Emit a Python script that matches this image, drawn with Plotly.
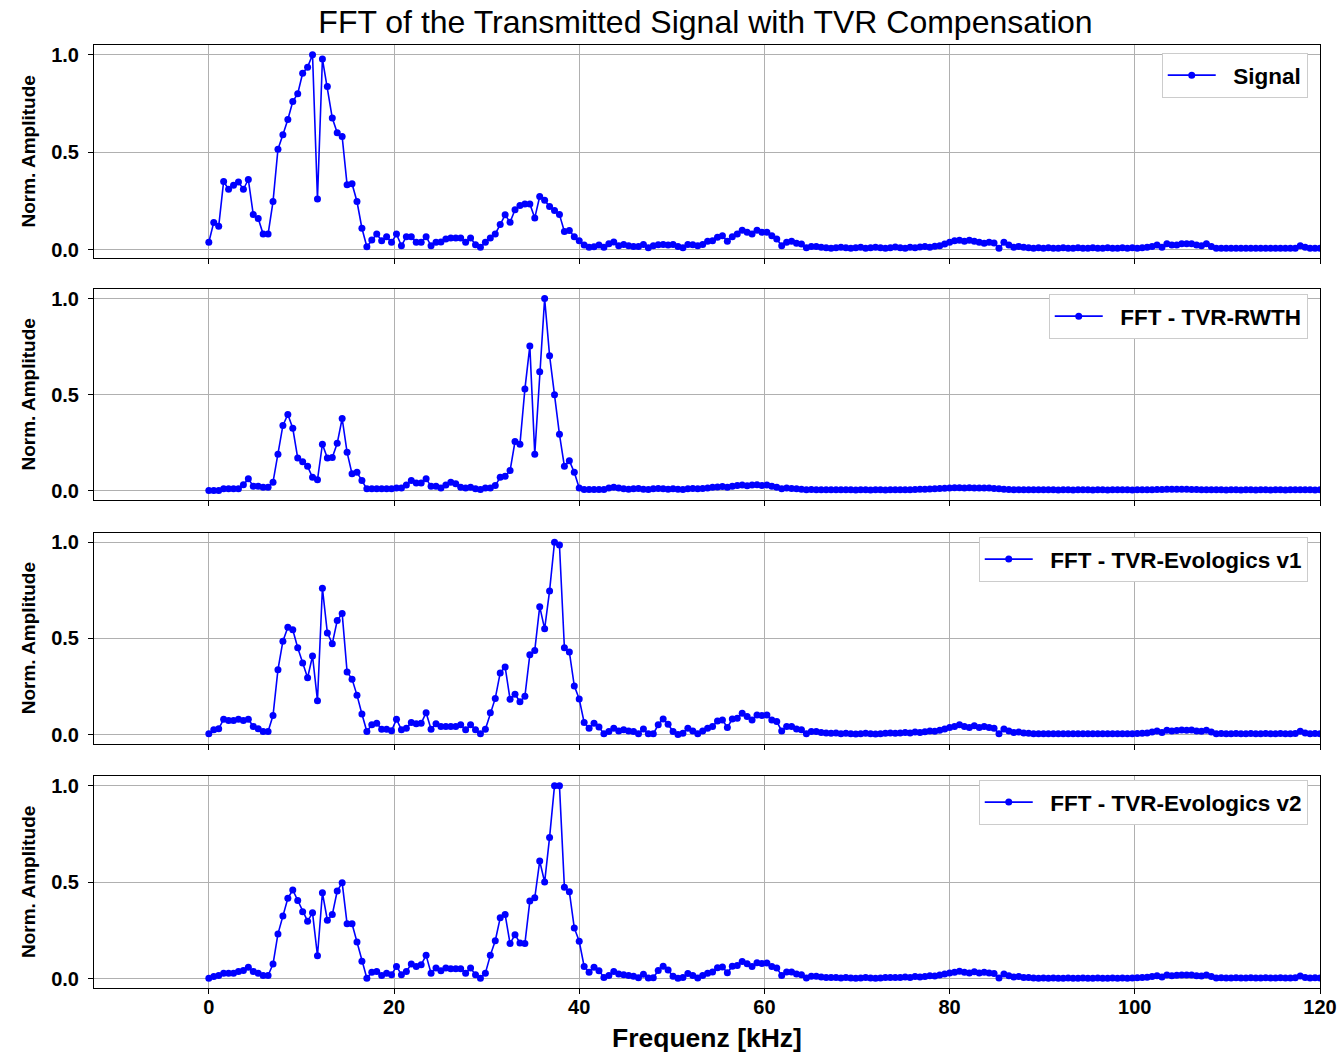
import plotly.graph_objects as go

# FFT bin frequencies in kHz (226 bins, 0 .. 120 kHz)
n_bins = 226
bin_width_khz = 120 / 225
freq_khz = [i * bin_width_khz for i in range(n_bins)]

series_names = ["Signal", "FFT - TVR-RWTH", "FFT - TVR-Evologics v1", "FFT - TVR-Evologics v2"]

signal_amp = [
    0.038, 0.14, 0.12, 0.35, 0.31, 0.33, 0.347, 0.31, 0.36, 0.18,
    0.16, 0.08, 0.08, 0.247, 0.515, 0.59, 0.668, 0.76, 0.80, 0.905,
    0.936, 1.0, 0.26, 0.978, 0.837, 0.675, 0.60, 0.58, 0.333, 0.338,
    0.247, 0.11, 0.015, 0.05, 0.08, 0.046, 0.067, 0.038, 0.08, 0.02,
    0.067, 0.067, 0.038, 0.038, 0.067, 0.02, 0.038, 0.04, 0.055, 0.06,
    0.06, 0.06, 0.038, 0.06, 0.026, 0.012, 0.038, 0.06, 0.081, 0.129,
    0.179, 0.141, 0.205, 0.227, 0.235, 0.235, 0.163, 0.273, 0.253, 0.222,
    0.201, 0.18, 0.093, 0.098, 0.067, 0.046, 0.024, 0.012, 0.015, 0.024,
    0.012, 0.03, 0.04, 0.02, 0.027, 0.02, 0.016, 0.016, 0.027, 0.01,
    0.02, 0.025, 0.027, 0.024, 0.027, 0.016, 0.01, 0.027, 0.025, 0.02,
    0.027, 0.043, 0.046, 0.064, 0.072, 0.043, 0.067, 0.081, 0.1, 0.089,
    0.081, 0.1, 0.089, 0.089, 0.072, 0.055, 0.02, 0.038, 0.043, 0.033,
    0.029, 0.01, 0.016, 0.016, 0.012, 0.01, 0.008, 0.01, 0.012, 0.01,
    0.008, 0.01, 0.012, 0.008, 0.01, 0.012, 0.01, 0.008, 0.01, 0.014,
    0.01, 0.008, 0.012, 0.01, 0.014, 0.016, 0.012, 0.018, 0.02, 0.029,
    0.038, 0.046, 0.049, 0.043, 0.049, 0.043, 0.038, 0.033, 0.038, 0.035,
    0.007, 0.038, 0.024, 0.012, 0.017, 0.012, 0.01, 0.008, 0.01, 0.008,
    0.01, 0.008, 0.008, 0.01, 0.008, 0.008, 0.01, 0.008, 0.008, 0.01,
    0.008, 0.008, 0.01, 0.008, 0.008, 0.01, 0.008, 0.01, 0.008, 0.01,
    0.012, 0.017, 0.024, 0.012, 0.03, 0.024, 0.024, 0.03, 0.03, 0.03,
    0.024, 0.02, 0.03, 0.017, 0.007, 0.008, 0.007, 0.008, 0.007, 0.007,
    0.008, 0.007, 0.007, 0.008, 0.007, 0.007, 0.008, 0.007, 0.007, 0.008,
    0.007, 0.02, 0.012, 0.007, 0.008, 0.007,
]

rwth_amp = [
    0.002, 0.002, 0.002, 0.01, 0.01, 0.01, 0.01, 0.031, 0.062, 0.024,
    0.024, 0.019, 0.019, 0.045, 0.19, 0.34, 0.397, 0.325, 0.17, 0.151,
    0.127, 0.07, 0.057, 0.242, 0.17, 0.173, 0.247, 0.376, 0.2, 0.088,
    0.096, 0.053, 0.01, 0.01, 0.01, 0.01, 0.01, 0.01, 0.015, 0.014,
    0.03, 0.053, 0.041, 0.041, 0.062, 0.024, 0.024, 0.014, 0.03, 0.045,
    0.036, 0.019, 0.014, 0.019, 0.01, 0.007, 0.014, 0.014, 0.027, 0.07,
    0.076, 0.105, 0.256, 0.242, 0.529, 0.753, 0.19, 0.619, 1.0, 0.703,
    0.5, 0.294, 0.127, 0.156, 0.096, 0.014, 0.007, 0.007, 0.007, 0.007,
    0.007, 0.014, 0.019, 0.014, 0.01, 0.008, 0.01, 0.012, 0.008, 0.007,
    0.01, 0.012, 0.01, 0.008, 0.01, 0.008, 0.007, 0.01, 0.012, 0.01,
    0.012, 0.014, 0.018, 0.02, 0.022, 0.018, 0.024, 0.028, 0.03, 0.026,
    0.03, 0.032, 0.028, 0.03, 0.024, 0.018, 0.01, 0.014, 0.012, 0.01,
    0.008, 0.006, 0.007, 0.006, 0.005, 0.006, 0.005, 0.005, 0.006, 0.005,
    0.005, 0.004, 0.005, 0.005, 0.004, 0.005, 0.005, 0.004, 0.005, 0.006,
    0.005, 0.006, 0.006, 0.007, 0.008, 0.008, 0.009, 0.01, 0.012, 0.013,
    0.014, 0.016, 0.016, 0.015, 0.016, 0.015, 0.014, 0.015, 0.014, 0.012,
    0.01, 0.008, 0.007, 0.006, 0.006, 0.005, 0.005, 0.005, 0.005, 0.005,
    0.005, 0.005, 0.004, 0.005, 0.005, 0.004, 0.005, 0.005, 0.005, 0.004,
    0.005, 0.005, 0.004, 0.005, 0.005, 0.005, 0.005, 0.004, 0.005, 0.005,
    0.006, 0.006, 0.007, 0.007, 0.008, 0.008, 0.008, 0.008, 0.008, 0.007,
    0.007, 0.006, 0.006, 0.005, 0.005, 0.005, 0.004, 0.005, 0.005, 0.004,
    0.005, 0.005, 0.004, 0.005, 0.005, 0.004, 0.005, 0.005, 0.004, 0.005,
    0.005, 0.006, 0.005, 0.005, 0.004, 0.005,
]

evo_v1_amp = [
    0.005, 0.026, 0.031, 0.081, 0.074, 0.074, 0.081, 0.074, 0.081, 0.043,
    0.031, 0.017, 0.017, 0.1, 0.338, 0.486, 0.558, 0.545, 0.452, 0.373,
    0.296, 0.409, 0.177, 0.761, 0.529, 0.473, 0.593, 0.63, 0.326, 0.289,
    0.206, 0.108, 0.017, 0.052, 0.06, 0.029, 0.029, 0.021, 0.081, 0.026,
    0.034, 0.064, 0.057, 0.06, 0.115, 0.029, 0.057, 0.043, 0.043, 0.043,
    0.043, 0.052, 0.026, 0.052, 0.026, 0.005, 0.029, 0.115, 0.189, 0.321,
    0.352, 0.184, 0.21, 0.172, 0.2, 0.416, 0.438, 0.665, 0.55, 0.747,
    1.0, 0.985, 0.452, 0.43, 0.254, 0.186, 0.064, 0.034, 0.06, 0.04,
    0.005, 0.017, 0.034, 0.02, 0.026, 0.02, 0.017, 0.005, 0.03, 0.005,
    0.005, 0.052, 0.082, 0.055, 0.017, 0.002, 0.008, 0.034, 0.02, 0.005,
    0.02, 0.034, 0.043, 0.072, 0.077, 0.038, 0.082, 0.086, 0.112, 0.095,
    0.077, 0.103, 0.1, 0.103, 0.077, 0.069, 0.02, 0.043, 0.043, 0.03,
    0.026, 0.005, 0.017, 0.017, 0.012, 0.01, 0.008, 0.01, 0.006, 0.008,
    0.006, 0.004, 0.006, 0.008, 0.006, 0.004, 0.006, 0.008, 0.01, 0.008,
    0.01, 0.012, 0.01, 0.014, 0.012, 0.016, 0.02, 0.018, 0.024, 0.03,
    0.038, 0.043, 0.052, 0.043, 0.038, 0.047, 0.038, 0.043, 0.038, 0.034,
    0.005, 0.03, 0.02, 0.012, 0.014, 0.01, 0.008, 0.006, 0.005, 0.006,
    0.005, 0.006, 0.005, 0.005, 0.006, 0.005, 0.005, 0.006, 0.005, 0.005,
    0.006, 0.005, 0.005, 0.006, 0.005, 0.006, 0.005, 0.006, 0.007, 0.008,
    0.01, 0.014, 0.02, 0.012, 0.024, 0.02, 0.022, 0.025, 0.024, 0.025,
    0.02, 0.018, 0.024, 0.014, 0.006, 0.007, 0.006, 0.006, 0.007, 0.006,
    0.006, 0.007, 0.006, 0.006, 0.007, 0.006, 0.006, 0.007, 0.006, 0.006,
    0.007, 0.018, 0.01, 0.006, 0.007, 0.006,
]

evo_v2_amp = [
    0.004, 0.013, 0.018, 0.03, 0.03, 0.03, 0.039, 0.044, 0.06, 0.039,
    0.03, 0.018, 0.018, 0.077, 0.233, 0.325, 0.417, 0.46, 0.406, 0.347,
    0.299, 0.342, 0.12, 0.446, 0.304, 0.333, 0.455, 0.498, 0.285, 0.285,
    0.191, 0.091, 0.004, 0.035, 0.039, 0.018, 0.03, 0.022, 0.065, 0.022,
    0.039, 0.077, 0.065, 0.074, 0.122, 0.03, 0.056, 0.043, 0.056, 0.053,
    0.053, 0.053, 0.03, 0.056, 0.022, 0.004, 0.03, 0.122, 0.198, 0.316,
    0.333, 0.183, 0.229, 0.186, 0.183, 0.403, 0.42, 0.61, 0.501, 0.732,
    1.0, 1.0, 0.475, 0.451, 0.264, 0.195, 0.065, 0.035, 0.06, 0.043,
    0.008, 0.018, 0.039, 0.025, 0.022, 0.018, 0.014, 0.006, 0.024, 0.005,
    0.006, 0.044, 0.066, 0.046, 0.014, 0.003, 0.008, 0.028, 0.018, 0.005,
    0.018, 0.03, 0.036, 0.058, 0.062, 0.032, 0.066, 0.07, 0.09, 0.078,
    0.064, 0.084, 0.08, 0.082, 0.064, 0.056, 0.018, 0.036, 0.036, 0.026,
    0.022, 0.005, 0.014, 0.014, 0.01, 0.008, 0.007, 0.008, 0.005, 0.007,
    0.005, 0.004, 0.005, 0.007, 0.005, 0.004, 0.005, 0.007, 0.008, 0.007,
    0.008, 0.01, 0.008, 0.012, 0.01, 0.013, 0.016, 0.015, 0.02, 0.025,
    0.031, 0.035, 0.04, 0.035, 0.031, 0.037, 0.031, 0.035, 0.031, 0.028,
    0.005, 0.025, 0.016, 0.01, 0.012, 0.008, 0.007, 0.005, 0.004, 0.005,
    0.004, 0.005, 0.004, 0.004, 0.005, 0.004, 0.004, 0.005, 0.004, 0.004,
    0.005, 0.004, 0.004, 0.005, 0.004, 0.005, 0.004, 0.005, 0.006, 0.007,
    0.009, 0.012, 0.017, 0.01, 0.02, 0.017, 0.019, 0.021, 0.02, 0.021,
    0.017, 0.015, 0.02, 0.012, 0.005, 0.006, 0.005, 0.005, 0.006, 0.005,
    0.005, 0.006, 0.005, 0.005, 0.006, 0.005, 0.005, 0.006, 0.005, 0.005,
    0.006, 0.015, 0.008, 0.005, 0.006, 0.005,
]

all_series = [signal_amp, rwth_amp, evo_v1_amp, evo_v2_amp]

x_ticks = [0, 20, 40, 60, 80, 100, 120]
y_ticks = [0.0, 0.5, 1.0]

FONT = "Liberation Sans, Arial, sans-serif"
BLUE = "#0000ff"
GRID = "#b0b0b0"

# vertical domains of the four stacked panels (paper coordinates)
domains = [(0.7741, 1.0), (0.5175, 0.7413), (0.2587, 0.4830), (0.0, 0.2248)]
legend_tops = [0.9915, 0.7359, 0.4783, 0.2206]

fig = go.Figure()
layout = dict(
    width=1341,
    height=1054,
    paper_bgcolor="white",
    plot_bgcolor="white",
    showlegend=True,
    margin=dict(l=94, r=21, t=45, b=66, autoexpand=False),
    font=dict(family=FONT, color="black"),
    title=dict(
        text="FFT of the Transmitted Signal with TVR Compensation",
        x=0.5261, xanchor="center", y=0.979, yanchor="middle", yref="container",
        font=dict(family=FONT, size=32, color="black"),
    ),
    annotations=[],
)

for k, (name, amp) in enumerate(zip(series_names, all_series)):
    sfx = "" if k == 0 else str(k + 1)
    lg = "legend" if k == 0 else f"legend{k + 1}"
    fig.add_trace(go.Scatter(
        x=freq_khz, y=amp, name="\u00a0\u00a0" + name, mode="lines+markers",
        line=dict(color=BLUE, width=1.6),
        marker=dict(color=BLUE, size=7),
        xaxis=f"x{sfx}", yaxis=f"y{sfx}", legend=lg, showlegend=True,
    ))

    lo, hi = min(amp), max(amp)
    pad = 0.05 * (hi - lo)
    last = k == len(series_names) - 1

    layout[f"xaxis{sfx}"] = dict(
        domain=[0, 1], anchor=f"y{sfx}", range=[-12.4, 120],
        tickvals=x_ticks, showticklabels=last, automargin=False,
        ticks="outside", ticklen=5, tickwidth=1, tickcolor="black",
        ticklabelstandoff=-4,
        tickfont=dict(family=FONT, size=20, weight="bold"),
        showgrid=True, gridcolor=GRID, gridwidth=1,
        showline=True, linecolor="black", linewidth=1, mirror=True,
        zeroline=False,
        **({} if k == 0 else {"matches": "x"}),
    )
    layout[f"yaxis{sfx}"] = dict(
        domain=list(domains[k]), anchor=f"x{sfx}", range=[lo - pad, hi + pad],
        tickvals=y_ticks, tickformat=".1f", automargin=False,
        ticks="outside", ticklen=5, tickwidth=1, tickcolor="black",
        ticklabelstandoff=5,
        tickfont=dict(family=FONT, size=20, weight="bold"),
        showgrid=True, gridcolor=GRID, gridwidth=1,
        showline=True, linecolor="black", linewidth=1, mirror=True,
        zeroline=False,
    )
    layout[lg] = dict(
        x=0.990, xanchor="right", y=legend_tops[k], yanchor="top",
        bgcolor="white", bordercolor="#cccccc", borderwidth=1,
        font=dict(family=FONT, size=22.5, weight="bold", color="black"),
        itemwidth=48,
    )
    layout["annotations"].append(dict(
        text="<b>Norm. Amplitude</b>", textangle=-90,
        xref="paper", yref="paper", x=-0.0538, xanchor="center",
        y=(domains[k][0] + domains[k][1]) / 2, yanchor="middle",
        showarrow=False, font=dict(family=FONT, size=19, color="black"),
    ))

layout["annotations"].append(dict(
    text="<b>Frequenz [kHz]</b>", xref="paper", yref="paper",
    x=0.5, xanchor="center", y=-0.053, yanchor="middle",
    showarrow=False, font=dict(family=FONT, size=26.5, color="black"),
))

fig.update_layout(**layout)
fig.write_html("out.html")
